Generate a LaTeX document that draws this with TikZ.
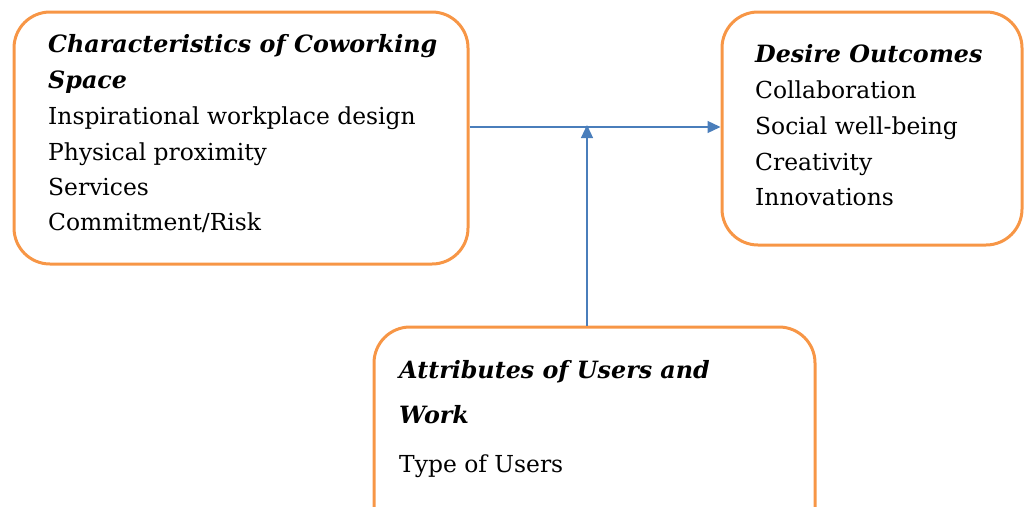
\documentclass[tikz,border=0pt]{standalone}
\usepackage{fontspec}
\setmainfont{DejaVu Serif}
\usetikzlibrary{arrows.meta}
\definecolor{boxorange}{HTML}{F79646}
\definecolor{arrblue}{HTML}{4A7EBB}
\tikzset{
  frame/.style={draw=boxorange, line width=3pt, rounded corners=36pt, inner sep=0pt},
  head/.style={anchor=base west, inner sep=0pt, font=\fontsize{23.8}{28}\selectfont\bfseries\itshape},
  item/.style={anchor=base west, inner sep=0pt, font=\fontsize{23.4}{28}\selectfont},
  arr/.style={draw=arrblue, line width=1.2pt, -{Triangle[length=13pt,width=12pt]}}
}
\begin{document}
\begin{tikzpicture}[x=1pt,y=-1pt]
\useasboundingbox (0,0) rectangle (1024,506);
\node[frame, minimum width=454pt, minimum height=252pt] (b1) at (241,138) {};
\node[frame, minimum width=300pt, minimum height=233pt] (b2) at (872,128.5) {};
\node[frame, minimum width=441pt, minimum height=230pt] (b3) at (594.5,442) {};
\coordinate (j) at (587,127);
% box 1 text
\node[head] (h1a) at (48,52) {Characteristics of Coworking};
\node[head] (h1b) at (48,88) {Space};
\node[item] (t1a) at (48,124) {Inspirational workplace design};
\node[item] (t1b) at (48,160) {Physical proximity};
\node[item] (t1c) at (48,195) {Services};
\node[item] (t1d) at (48,230) {Commitment/Risk};
% box 2 text
\node[head] (h2) at (755,62) {Desire Outcomes};
\node[item] (t2a) at (755,98) {Collaboration};
\node[item] (t2b) at (755,134) {Social well-being};
\node[item] (t2c) at (755,170) {Creativity};
\node[item] (t2d) at (755,205) {Innovations};
% box 3 text
\node[head] (h3a) at (399,378) {Attributes of Users and};
\node[head] (h3b) at (399,423) {Work};
\node[item] (t3a) at (399,472) {Type of Users};
% connectors
\draw[arr] (b1.east |- j) -- (b2.west |- j);
\draw[arr] (b3.north -| j) -- ([yshift=2pt]j);
\end{tikzpicture}
\end{document}
